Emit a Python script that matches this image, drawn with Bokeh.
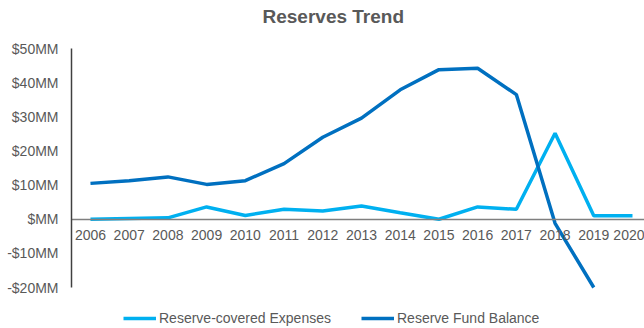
from bokeh.plotting import figure
from bokeh.models import Range1d, FixedTicker, Legend, LegendItem, ColumnDataSource, Title
from bokeh.embed import file_html
from bokeh.resources import INLINE

years = list(range(2006, 2021))
expenses = [0.0, 0.2, 0.4, 3.6, 1.1, 2.9, 2.4, 3.9, 1.9, 0.0, 3.6, 2.9, 25.2, 1.0, 1.0]
balance = [10.5, 11.3, 12.4, 10.2, 11.3, 16.3, 24.0, 29.6, 37.9, 43.8, 44.2, 36.5, -1.2, -20.0, float("nan")]
y_ticks = [-20, -10, 0, 10, 20, 30, 40, 50]
y_tick_labels = ["-$20MM", "-$10MM", "$MM", "$10MM", "$20MM", "$30MM", "$40MM", "$50MM"]
title_text = "Reserves Trend"

FONT = "Liberation Sans"
GREY = "#595959"

p = figure(width=644, height=328, output_backend="svg", toolbar_location=None,
           x_range=Range1d(2005.51, 2020.31), y_range=Range1d(-32.0, 50),
           min_border_left=71, min_border_right=0, min_border_top=48, min_border_bottom=0)
p.outline_line_color = None
p.xgrid.visible = False
p.ygrid.visible = False

p.title.text = title_text
p.title.align = "left"
p.title.text_font = FONT
p.title.text_font_size = "19px"
p.title.text_font_style = "bold"
p.title.text_color = GREY
p.title.offset = 191
p.title.standoff = 0

spacer = Title(text=" ", text_font_size="2px", standoff=18)
p.add_layout(spacer, "above")

src = ColumnDataSource(dict(year=years, exp=expenses, bal=balance))
r1 = p.line("year", "exp", source=src, line_color="#00B0F0", line_width=3.5)
r2 = p.line("year", "bal", source=src, line_color="#0070C0", line_width=3.5)

ya = p.yaxis[0]
ya.ticker = FixedTicker(ticks=y_ticks)
ya.major_label_overrides = {t: l for t, l in zip(y_ticks, y_tick_labels)}
ya.bounds = (-20, 50)
ya.major_tick_out = 0
ya.major_tick_in = 0
ya.minor_tick_out = 0
ya.minor_tick_in = 0
ya.axis_line_color = "#404040"
ya.axis_line_width = 1.5
ya.major_label_standoff = 13
ya.major_label_text_font = FONT
ya.major_label_text_font_size = "14px"
ya.major_label_text_color = GREY

xa = p.xaxis[0]
xa.ticker = FixedTicker(ticks=years)
xa.fixed_location = 0
xa.major_tick_out = 0
xa.major_tick_in = 0
xa.minor_tick_out = 0
xa.minor_tick_in = 0
xa.axis_line_color = "#7f7f7f"
xa.axis_line_width = 1.5
xa.major_label_standoff = 11
xa.major_label_text_font = FONT
xa.major_label_text_font_size = "14px"
xa.major_label_text_color = GREY

legend = Legend(items=[LegendItem(label="Reserve-covered Expenses", renderers=[r1]),
                       LegendItem(label="Reserve Fund Balance", renderers=[r2])],
                orientation="horizontal", location=(52, 0),
                label_text_font=FONT, label_text_font_size="14px", label_text_color=GREY,
                glyph_width=33, label_standoff=3, spacing=30, padding=0, margin=0,
                border_line_color=None, background_fill_alpha=0)
p.add_layout(legend, "center")

open("out.html", "w").write(file_html(p, INLINE))
